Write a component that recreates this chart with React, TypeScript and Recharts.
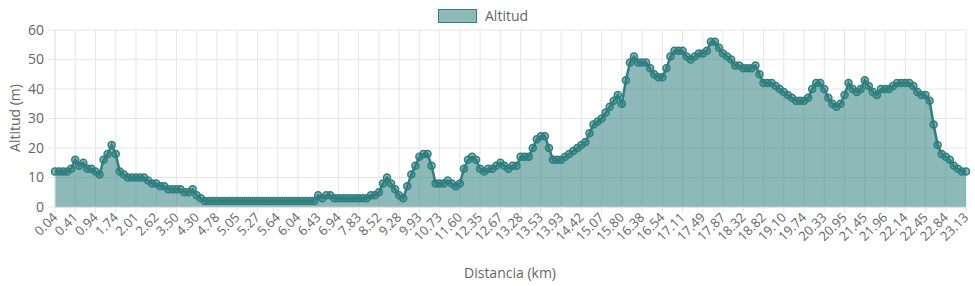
import React from 'react';
import { AreaChart, Area, XAxis, YAxis, CartesianGrid } from 'recharts';

const kmLabels = [
  '0.04', '0.41', '0.94', '1.74', '2.01', '2.62', '3.50', '4.30', '4.78', '5.05',
  '5.27', '5.64', '6.04', '6.43', '6.94', '7.83', '8.52', '9.28', '9.93', '10.73',
  '11.60', '12.35', '12.67', '13.28', '13.53', '13.93', '14.42', '15.07', '15.80', '16.38',
  '16.54', '17.11', '17.49', '17.87', '18.32', '18.82', '19.10', '19.74', '20.33', '20.95',
  '21.45', '21.96', '22.14', '22.45', '22.84', '23.13',
];

// altitude samples (m); 5 samples per labelled distance
const altitude = [
  12, 12, 12, 12, 13,
  16, 14, 15, 13, 13,
  12, 11, 16, 18, 21,
  18, 12, 11, 10, 10,
  10, 10, 10, 9, 8,
  8, 7, 7, 6, 6,
  6, 6, 5, 5, 6,
  4, 3, 2, 2, 2,
  2, 2, 2, 2, 2,
  2, 2, 2, 2, 2,
  2, 2, 2, 2, 2,
  2, 2, 2, 2, 2,
  2, 2, 2, 2, 2,
  4, 3, 4, 4, 3,
  3, 3, 3, 3, 3,
  3, 3, 3, 4, 4,
  5, 8, 10, 8, 6,
  4, 3, 7, 11, 14,
  17, 18, 18, 14, 8,
  8, 8, 9, 8, 7,
  8, 13, 16, 17, 16,
  13, 12, 13, 13, 14,
  15, 14, 13, 14, 14,
  17, 17, 17, 20, 23,
  24, 24, 20, 16, 16,
  16, 17, 18, 19, 20,
  21, 22, 25, 28, 29,
  30, 32, 34, 36, 38,
  35, 43, 49, 51, 49,
  49, 49, 47, 45, 44,
  44, 47, 51, 53, 53,
  53, 51, 50, 51, 52,
  52, 53, 56, 56, 54,
  52, 51, 50, 48, 48,
  47, 47, 47, 48, 45,
  42, 42, 42, 41, 40,
  39, 38, 37, 36, 36,
  36, 37, 40, 42, 42,
  40, 37, 35, 34, 35,
  38, 42, 40, 39, 40,
  43, 41, 39, 38, 40,
  40, 40, 41, 42, 42,
  42, 42, 41, 39, 38,
  38, 36, 28, 21, 18,
  17, 16, 14, 13, 12,
  12,
];

const yTicks = [0, 10, 20, 30, 40, 50, 60];
const SAMPLES_PER_LABEL = 5;

const data = altitude.map((alt, idx) => ({ idx, alt }));
const xTicks = kmLabels.map((_, i) => i * SAMPLES_PER_LABEL);

const FONT = '"Open Sans", "Noto Sans", sans-serif';
const TEXT = '#666';
const GRID = '#e6e6e6';
const LINE = '#2f7f80';
const FILL = 'rgba(47,127,128,0.55)';

const XTick = (props: any) => {
  const { x, y, payload } = props;
  const label = kmLabels[Math.round(payload.value / SAMPLES_PER_LABEL)];
  return (
    <g transform={`translate(${x},${y})`}>
      <text
        x={0}
        y={0}
        dy="0.35em"
        transform="rotate(-45)"
        textAnchor="end"
        fill={TEXT}
        fontSize={13}
        fontFamily={FONT}
      >
        {label}
      </text>
    </g>
  );
};

export default function App() {
  return (
    <div style={{ position: 'absolute', left: 0, top: 0, width: 975, height: 286, background: '#fff' }}>
      <div
        style={{
          position: 'absolute',
          left: 438,
          top: 6,
          display: 'flex',
          alignItems: 'center',
          fontFamily: FONT,
          fontSize: 14,
          color: TEXT,
        }}
      >
        <span
          style={{
            display: 'inline-block',
            width: 37,
            height: 12,
            background: FILL,
            border: `1px solid ${LINE}`,
            marginRight: 8,
          }}
        />
        <span>Altitud</span>
      </div>
      <AreaChart
        width={975}
        height={286}
        data={data}
        margin={{ top: 30, right: 9, left: 0, bottom: 0 }}
      >
        <CartesianGrid stroke={GRID} strokeWidth={1} />
        <XAxis
          dataKey="idx"
          type="number"
          domain={[0, altitude.length - 1]}
          ticks={xTicks}
          interval={0}
          height={79}
          tickSize={6}
          tickMargin={2}
          tickLine={{ stroke: GRID }}
          axisLine={{ stroke: '#cfcfcf' }}
          tick={<XTick />}
          label={{
            content: () => (
              <text x={510} y={272} textAnchor="middle" dominantBaseline="central" fill={TEXT} fontSize={14} fontFamily={FONT}>
                Distancia (km)
              </text>
            ),
          }}
        />
        <YAxis
          type="number"
          domain={[0, 60]}
          ticks={yTicks}
          interval={0}
          width={55}
          tickSize={7}
          tickMargin={4}
          tickLine={{ stroke: GRID }}
          axisLine={{ stroke: GRID }}
          tick={{ fill: TEXT, fontSize: 14, fontFamily: FONT }}
          label={{
            content: () => (
              <text
                x={14}
                y={118}
                transform="rotate(-90 14 118)"
                textAnchor="middle"
                dominantBaseline="central"
                fill={TEXT}
                fontSize={14}
                fontFamily={FONT}
              >
                Altitud (m)
              </text>
            ),
          }}
        />
        <Area
          type="linear"
          dataKey="alt"
          stroke={LINE}
          strokeWidth={2.5}
          fill={FILL}
          fillOpacity={1}
          dot={{ r: 3.5, fill: FILL, stroke: LINE, strokeWidth: 1.5 }}
          activeDot={false}
          isAnimationActive={false}
        />
      </AreaChart>
    </div>
  );
}
